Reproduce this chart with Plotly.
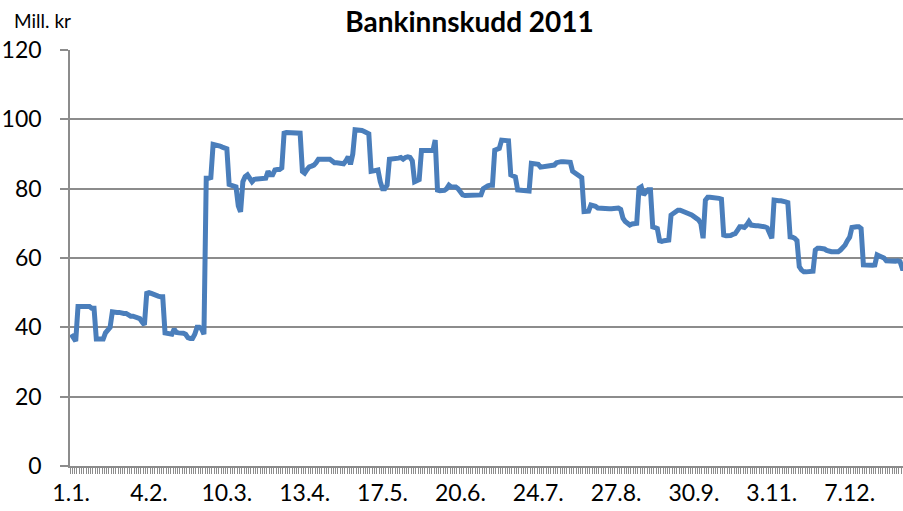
import plotly.graph_objects as go

# Daily bank deposits 2011 (Mill. kr), one value per calendar day from 1 Jan
deposits = [
    38, 37, 36, 46, 46, 46.2, 46.2, 46, 46, 45.5,            # 0-9
    45.5, 36.6, 36.6, 36.6, 36.6, 38.4, 39, 40, 44.5, 44.3,   # 10-19
    44.3, 44.3, 44, 44, 44, 43.5, 43.2, 43.2, 43, 42.8,       # 20-29
    42.5, 41.5, 40.7, 49.8, 50, 49.8, 49.5, 49, 49, 48.8,     # 30-39
    48.8, 38.4, 38.2, 38, 38, 39.5, 38.5, 38.4, 38.4, 38.3,   # 40-49
    38, 37, 36.8, 36.8, 38, 40, 40, 39.5, 38, 83,             # 50-59
    83, 83.2, 92.8, 92.7, 92.6, 92.3, 92, 91.8, 91.5, 81.2,   # 60-69
    81, 80.8, 80.5, 75, 73.3, 82, 83.5, 84, 83, 82,           # 70-79
    82.7, 82.7, 82.8, 82.8, 82.8, 83, 85, 84, 84, 85.4,       # 80-89
    85.5, 85.5, 86, 96, 96.2, 96.2, 96.2, 96.2, 96, 96,       # 90-99
    96, 85, 84.5, 85.5, 86.3, 86.5, 86.8, 87.5, 88.5, 88.5,   # 100-109
    88.5, 88.5, 88.5, 88.5, 88, 87.5, 87.5, 87.5, 87.3, 87.2, # 110-119
    88, 89.2, 87, 90, 97, 97, 97, 96.8, 96.5, 96.2,           # 120-129
    95.8, 85, 85.2, 85.4, 85.4, 82, 80, 80, 81, 88.5,         # 130-139
    88.5, 88.6, 88.7, 88.8, 89, 88.5, 89, 89.2, 89, 88,       # 140-149
    82, 82.5, 82.6, 91, 91, 91, 91, 91, 91, 94,               # 150-159
    79.6, 79.4, 79.4, 79.5, 80, 81, 80.5, 80.5, 80.5, 80,     # 160-169
    79, 78.2, 78, 78, 78, 78, 78, 78, 78, 78.2,               # 170-179
    80, 80.6, 80.8, 81, 81, 91.1, 91.2, 91.6, 94, 94,         # 180-189
    94, 93.8, 84, 83.6, 83.4, 79.6, 79.5, 79.4, 79.4, 79.4,   # 190-199
    79.3, 87.3, 87.3, 87.3, 87, 86.2, 86.3, 86.3, 86.2, 86.3, # 200-209
    86.5, 86.8, 87.5, 87.8, 87.8, 87.8, 87.8, 87.8, 87.6, 85, # 210-219
    84.5, 84, 83.5, 83.2, 73.4, 73.4, 73.5, 75.3, 75.2, 74.9, # 220-229
    74.4, 74.3, 74.3, 74.3, 74.2, 74.2, 74.2, 74.3, 74.3, 74.4, # 230-239
    74, 71.5, 70.5, 70, 69.5, 69.8, 69.8, 70, 80.1, 80.5,     # 240-249
    78.2, 79, 79.7, 79.7, 69, 68.8, 68.5, 65, 64.8, 65,       # 250-259
    65, 65.2, 72.4, 72.9, 73.3, 73.8, 73.8, 73.6, 73.2, 72.9, # 260-269
    72.7, 72.4, 72, 71.4, 71, 70, 65.7, 76.7, 77.5, 77.5,     # 270-279
    77.5, 77.4, 77.3, 77.2, 77, 66.6, 66.4, 66.4, 66.5, 66.8, # 280-289
    67, 68, 69, 69, 68.8, 69.5, 70.5, 69.5, 69.3, 69.3,       # 290-299
    69.3, 69.3, 69.2, 69, 68.7, 67, 65.7, 76.7, 76.5, 76.5,   # 300-309
    76.5, 76.5, 76.2, 76, 66.1, 66, 65.7, 65, 57.5, 56.5,     # 310-319
    56, 56, 56, 56, 56.2, 62.3, 62.8, 62.8, 62.8, 62.6,       # 320-329
    62.2, 61.8, 61.8, 61.8, 61.8, 61.8, 62.3, 63, 63.7, 65,   # 330-339
    66, 68.8, 69, 69, 69, 68.5, 58, 57.9, 57.9, 58,           # 340-349
    57.9, 58, 60.9, 60.6, 60.4, 60, 59.2, 59.1, 59.1, 59.1,   # 350-359
    59.1, 59.2, 59, 57, 57,                                   # 360-364
]
days = list(range(len(deposits)))

tick_days = [0, 34, 68, 102, 136, 170, 204, 238, 272, 306, 340]
tick_labels = ["1.1.", "4.2.", "10.3.", "13.4.", "17.5.", "20.6.",
               "24.7.", "27.8.", "30.9.", "3.11.", "7.12."]

title_text = "Bankinnskudd 2011"
y_unit = "Mill. kr"

FONT = "Lato, 'Open Sans', sans-serif"
GRID = "#8c8c8c"

fig = go.Figure()
fig.add_trace(go.Scatter(
    x=days, y=deposits, mode="lines",
    line=dict(color="#4a7ebb", width=5),
    hoverinfo="x+y", showlegend=False,
))

fig.update_layout(
    width=903, height=511,
    margin=dict(l=70, r=0, t=50, b=45),
    paper_bgcolor="white", plot_bgcolor="white",
    font=dict(family=FONT, color="black"),
    title=dict(text=f"<b>{title_text}</b>", x=0.52, xanchor="center",
               y=1 - 22 / 511, yanchor="middle",
               font=dict(size=28, family=FONT, color="black")),
    annotations=[dict(text=y_unit, xref="paper", yref="paper",
                      x=-58 / 833, y=1 + 30 / 416, xanchor="left", yanchor="middle",
                      showarrow=False, font=dict(size=19, family=FONT, color="black"))],
)

fig.update_xaxes(
    range=[-0.5, 363.3], showgrid=False, zeroline=False, automargin=False,
    showline=True, linecolor=GRID, linewidth=1.5,
    tickmode="array", tickvals=tick_days, ticktext=tick_labels,
    ticks="", ticklabelstandoff=6,
    tickfont=dict(size=23, family=FONT, color="black"),
    minor=dict(tick0=-0.5, dtick=1, ticks="outside", ticklen=6,
               tickcolor=GRID, tickwidth=1, showgrid=False),
)
fig.update_yaxes(
    range=[0, 120], dtick=20, showgrid=True, gridcolor=GRID, gridwidth=1.5,
    zeroline=False, showline=True, linecolor=GRID, linewidth=1.5, automargin=False,
    ticks="outside", ticklen=8, tickcolor=GRID, tickwidth=1.5,
    ticklabelstandoff=14,
    tickfont=dict(size=23, family=FONT, color="black"),
)

fig.write_html("out.html", config={"displayModeBar": False},
               post_script="document.body.style.margin='0';document.body.style.overflow='hidden';")
